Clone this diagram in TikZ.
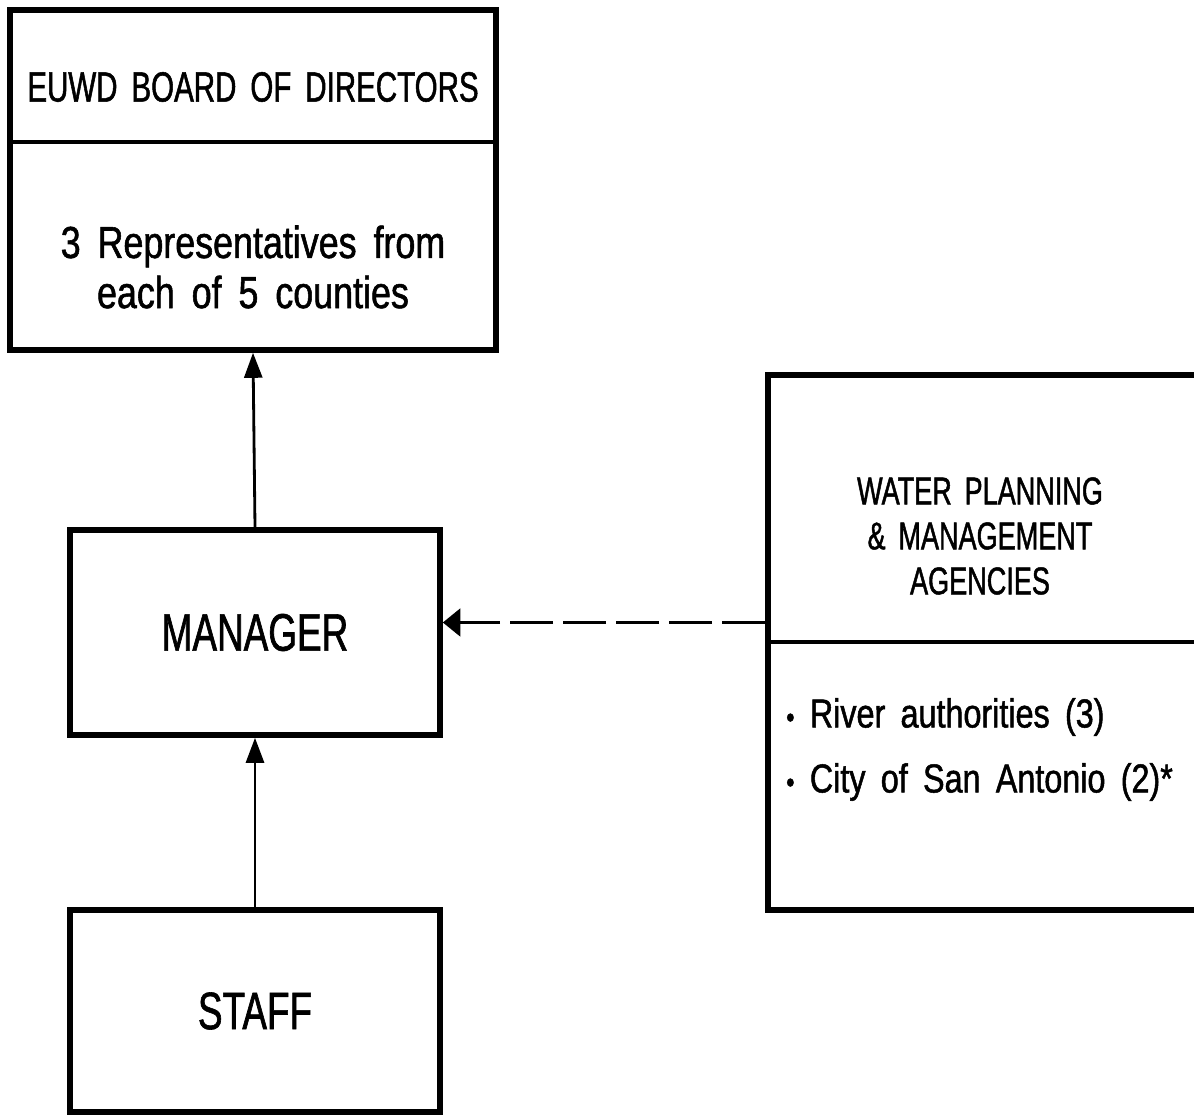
\documentclass[tikz,border=0pt]{standalone}
\usepackage{fontspec}
\setmainfont[FakeStretch=0.7, WordSpace=1.7, FakeBold=1.2]{Liberation Sans}
\newfontfamily\bodyfont[FakeStretch=0.8, WordSpace=1.7, FakeBold=1.2]{Liberation Sans}
\usepackage{tikz}
\usetikzlibrary{positioning, arrows.meta}
\tikzset{
	orgbox/.style={draw, line width=3.2pt, rectangle, inner sep=0pt}
}
\tikzset{
	conn/.style={line width=1.6pt, -{Triangle[length=5mm, width=3.6mm]}}
}
\tikzset{
	boxtext/.style={font=\fontsize{24}{28.5}\selectfont, align=center}
}
\tikzset{
	itemtext/.style={font=\bodyfont\fontsize{23}{26}\selectfont, anchor=west}
}
\newcommand{\bigtxt}{\fontsize{30}{34}\selectfont}
\newcommand{\dotitem}{{\fontsize{17}{17}\selectfont\textbullet}\ }

\begin{document}
\begin{tikzpicture}
      \useasboundingbox (0,0) rectangle (23.88,22.34);
      % board
      \node[orgbox, minimum width=9.72cm, minimum height=6.8cm] (board) at (5.06,18.74) {};
      \draw[line width=2.4pt] ([yshift=-2.7cm]board.north west) -- ([yshift=-2.7cm]board.north east);
      \node[boxtext] (boardtitle) at (5.06,20.6) {EUWD BOARD OF DIRECTORS};
      \node[boxtext, font=\bodyfont\fontsize{25.5}{28.5}\selectfont] (boardbody) at (5.06,17.0) {3 Representatives from\\each of 5 counties};
      % manager and staff
      \node[orgbox, minimum width=7.4cm, minimum height=4.1cm, font=\bigtxt] (manager) at (5.1,9.69) {MANAGER};
      \node[orgbox, minimum width=7.4cm, minimum height=4.04cm, font=\bigtxt] (staff) at (5.1,2.12) {STAFF};
      \draw[conn] (manager.north) -- (board.south);
      \draw[conn] (staff.north) -- (manager.south);
      % agencies
      \node[orgbox, minimum width=8.9cm, minimum height=10.7cm] (water) at (19.81,9.49) {};
      \draw[line width=2.4pt] ([yshift=-5.4cm]water.north west) -- ([yshift=-5.4cm]water.north east);
      \node[boxtext, font=\fontsize{22}{25.6}\selectfont] (watertitle) at (19.6,11.62) {WATER PLANNING\\\& MANAGEMENT\\AGENCIES};
      \node[itemtext] (river) at (15.6,8.0) {\dotitem River authorities (3)};
      \node[itemtext] (city) at (15.6,6.7) {\dotitem City of San Antonio (2)*};
      \coordinate (dashstart) at ([yshift=0.4cm]water.west);
      \draw[line width=1.9pt, dash pattern=on 0.86cm off 0.2cm, -{Triangle[length=3.5mm, width=5.5mm]}] (dashstart) -- (manager.east |- dashstart);
    \end{tikzpicture}
\end{document}
